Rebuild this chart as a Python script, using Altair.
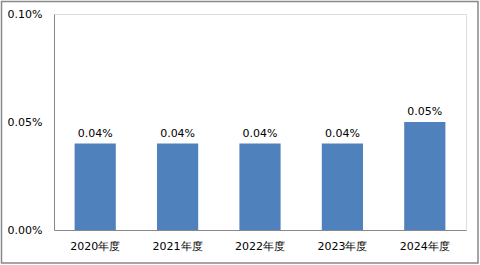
import altair as alt
import pandas as pd

years = ["2020年度", "2021年度", "2022年度", "2023年度", "2024年度"]
rates = [0.0004, 0.0004, 0.0004, 0.0004, 0.0005]
y_ticks = [0.0, 0.0005, 0.001]

df = pd.DataFrame({"year": years, "rate": rates})

W, H = 412, 216
PL, PT, PR, PB = 54, 14, 14, 35
FONT = "DejaVu Sans"

base = alt.Chart(df)

bars = base.mark_bar(color="#4F81BD").encode(
    x=alt.X("year:N", sort=years, title=None,
            scale=alt.Scale(paddingInner=0.5, paddingOuter=0.25),
            axis=alt.Axis(labelAngle=0, ticks=False, domainColor="#888888",
                          labelFont=FONT, labelFontSize=11, labelColor="#000000",
                          labelPadding=10)),
    y=alt.Y("rate:Q", title=None,
            scale=alt.Scale(domain=[0, 0.001], nice=False),
            axis=alt.Axis(values=y_ticks, format=".2%", grid=False, ticks=False,
                          domainColor="#888888", labelFont=FONT, labelFontSize=11,
                          labelColor="#000000", labelPadding=12)),
)

labels = base.mark_text(dy=-10, font=FONT, fontSize=11, color="#000000").encode(
    x=alt.X("year:N", sort=years),
    y="rate:Q",
    text=alt.Text("rate:Q", format=".2%"),
)

border = alt.Chart(pd.DataFrame({"a": [0]})).mark_rect(
    filled=False, stroke="#888888", strokeWidth=1.5, clip=False
).encode(
    x=alt.value(-PL + 1.5), x2=alt.value(W + PR - 2),
    y=alt.value(-PT + 1.5), y2=alt.value(H + PB - 2),
)

chart = alt.layer(bars, labels, border).properties(
    width=W, height=H,
    autosize=alt.AutoSizeParams(type="none"),
    padding={"left": PL, "top": PT, "right": PR, "bottom": PB},
).configure_view(stroke=None).configure(background="white")

chart.save("out.html", embed_options={"renderer": "svg", "actions": False})
